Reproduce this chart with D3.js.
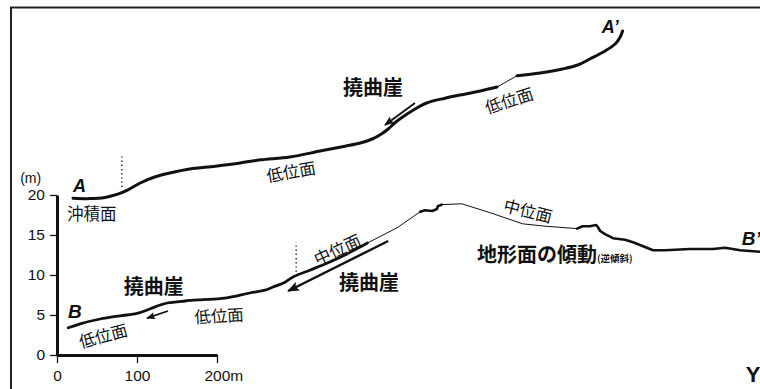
<!DOCTYPE html>
<html><head><meta charset="utf-8">
<script src="https://cdn.jsdelivr.net/npm/d3@7"></script>
<style>html,body{margin:0;padding:0;background:#fff;overflow:hidden}</style>
</head><body>
<svg id="c" width="760" height="389"></svg>
<script>
// ---- data: distance (m), elevation (m) ----
const yTicks = [0, 5, 10, 15, 20];
const xTicks = [0, 100, 200];
const xTickLabels = ["0", "100", "200m"];

// Profile A–A'
const profileA1 = [[20,19.6],[41,19.55],[60,19.7],[76,20.1],[88,20.6],[104,21.5],[122,22.25],[141,22.75],[166,23.25],[198,23.6],[229,24],[254,24.4],[291,24.75],[329,25.5],[360,26.1],[379,26.5],[394,27],[405,27.6],[414,28.25],[422,29],[432,29.75],[445,30.6],[462,31.5],[485,32.1],[504,32.5],[529,33],[550,33.5]];
const profileA2 = [[550,33.5],[575,34.9]];
const profileA3 = [[575,34.9],[604,35.25],[632,35.75],[651,36.25],[666,37],[685,38],[698,38.9],[704,39.75],[707,40.5]];

// Profile B–B'
const profileB1 = [[14,3.4],[29,3.9],[54,4.5],[79,4.9],[100,5.2],[116,5.75],[129,6.25],[138,6.5],[160,6.75],[179,6.9],[210,7.1],[241,7.75],[260,8.1],[270,8.5],[285,9.1],[295,9.75],[316,10.6],[338,11.5],[360,12.5],[379,13.5],[388,14]];
const profileB2 = [[388,14],[425,15.9],[454,17.9]];
const profileB3 = [[454,17.9],[460,18.1],[469,18],[475,18.25],[476,18.6],[481,18.8]];
const profileB4 = [[481,18.8],[506,18.9],[541,17.8],[582,16.4],[610,16.1],[650,15.8]];
const profileB5 = [[650,15.8],[657,16.1],[666,16.1],[674,16.25],[676,16],[679,15.5],[685,15.1],[695,14.6],[710,14.4],[720,14.1],[735,13.5],[745,13.1],[760,13.1],[791,13.25],[820,13.25],[835,13.4],[854,13.1],[879,12.9]];

// dotted boundaries [x, y0, y1]
const dotted = [[81,21,25],[299,10.4,14.1]];
// arrows [x0,y0,x1,y1,width]
const arrows = [[447.5,31.5,410,28.75,2],[138.75,5.5,112.5,4.6,1.8],[414,14.25,289,8,2.4]];

// labels: text, x, y, rotation, size, weight, style, anchor
const labels = [
  ["A", 20, 20.375, 0, 18, "bold", "italic", "start", "latin"],
  ["A’", 681, 40.2, 0, 18, "bold", "italic", "start", "latin"],
  ["B", 13.75, 4.6, 0, 19, "bold", "italic", "start", "latin"],
  ["B’", 856, 13.75, 0, 19, "bold", "italic", "start", "latin"],
  ["(m)", -46, 21.5, 0, 14, "normal", "normal", "start", "latin"],
  ["Y", 861, -3.4, 0, 22, "bold", "normal", "start", "latin"],
  ["沖積面", 12.5, 16.9, 0, 16.5, "normal", "normal", "start", "cjk"],
  ["低位面", 292.5, 23, -10, 16.5, "normal", "normal", "middle", "cjk"],
  ["低位面", 565, 31.9, -18, 16.5, "normal", "normal", "middle", "cjk"],
  ["撓曲崖", 395, 33.6, 0, 20, "bold", "normal", "middle", "cjk"],
  ["撓曲崖", 121, 8.75, 0, 20, "bold", "normal", "middle", "cjk"],
  ["撓曲崖", 390, 9.25, 0, 20, "bold", "normal", "middle", "cjk"],
  ["低位面", 57.5, 2.5, -15, 16.5, "normal", "normal", "middle", "cjk"],
  ["低位面", 202.5, 5, -3, 16.5, "normal", "normal", "middle", "cjk"],
  ["中位面", 350, 13.25, -25, 16.5, "normal", "normal", "middle", "cjk"],
  ["中位面", 589, 18.1, 14, 16.5, "normal", "normal", "middle", "cjk"]
];
const tiltLabel = ["地形面の傾動", "(逆傾斜)", 525, 11.6];

// ---- drawing ----
const svg = d3.select("#c");
const x = d3.scaleLinear().domain([0, 200]).range([57, 217]);
const y = d3.scaleLinear().domain([0, 20]).range([355, 195]);

// frame
svg.append("rect").attr("x", 11).attr("y", 7.5).attr("width", 800).attr("height", 500)
  .attr("fill", "none").attr("stroke", "#222").attr("stroke-width", 2);

svg.append("defs").append("marker").attr("id", "ah")
  .attr("viewBox", "0 0 10 8").attr("refX", 9).attr("refY", 4)
  .attr("markerWidth", 5).attr("markerHeight", 4).attr("markerUnits", "strokeWidth")
  .attr("orient", "auto")
  .append("path").attr("d", "M0,0 L10,4 L0,8 L2,4 Z").attr("fill", "#111");

// axes
const ya = svg.append("g").attr("transform", "translate(57,0)")
  .call(d3.axisLeft(y).tickValues(yTicks).tickSize(7).tickPadding(5).tickSizeOuter(0));
const xa = svg.append("g").attr("transform", "translate(0,355)")
  .call(d3.axisBottom(x).tickValues(xTicks).tickSize(8).tickPadding(7).tickSizeOuter(0)
    .tickFormat((d, i) => xTickLabels[i]));
[ya, xa].forEach(g => {
  g.select(".domain").attr("stroke", "#111").attr("stroke-width", 3);
  g.selectAll(".tick line").attr("stroke", "#111").attr("stroke-width", 1.3);
  g.selectAll(".tick text").attr("font-family", "Liberation Sans, Arial, sans-serif")
    .attr("font-size", 15.5).attr("fill", "#111");
});
xa.selectAll(".tick text").filter(d => d === 200).attr("text-anchor", "start").attr("x", -13);

// profiles
const smooth = d3.line().x(d => x(d[0])).y(d => y(d[1])).curve(d3.curveCatmullRom.alpha(0.5));
const straight = d3.line().x(d => x(d[0])).y(d => y(d[1]));
function prof(data, w, gen) {
  svg.append("path").attr("d", gen(data)).attr("fill", "none").attr("stroke", "#111")
    .attr("stroke-width", w).attr("stroke-linejoin", "round").attr("stroke-linecap", "round");
}
prof(profileA1, 3, smooth);
prof(profileA2, 1, straight);
prof(profileA3, 3, smooth);
prof(profileB1, 2.8, smooth);
prof(profileB2, 1, straight);
prof(profileB3, 2.6, straight);
prof(profileB4, 1, straight);
prof(profileB5, 2.6, straight);

// dotted lines
dotted.forEach(d => {
  svg.append("line").attr("x1", x(d[0])).attr("x2", x(d[0])).attr("y1", y(d[1])).attr("y2", y(d[2]))
    .attr("stroke", "#222").attr("stroke-width", 1.6).attr("stroke-dasharray", "1.2,3");
});

// arrows
arrows.forEach(a => {
  svg.append("line").attr("x1", x(a[0])).attr("y1", y(a[1])).attr("x2", x(a[2])).attr("y2", y(a[3]))
    .attr("stroke", "#111").attr("stroke-width", a[4]).attr("marker-end", "url(#ah)");
});

// labels
labels.forEach(l => {
  const px = x(l[1]), py = y(l[2]);
  const t = svg.append("text").text(l[0])
    .attr("transform", `translate(${px},${py}) rotate(${l[3]})`)
    .attr("font-size", l[4]).attr("font-weight", l[5]).attr("font-style", l[6])
    .attr("text-anchor", l[7]).attr("fill", "#111")
    .attr("font-family", l[8] === "cjk" ? "'Noto Sans CJK JP', sans-serif" : "Liberation Sans, Arial, sans-serif");
  if (l[7] === "middle") t.attr("dominant-baseline", "central");
});
const tl = svg.append("text").attr("x", x(tiltLabel[2])).attr("y", y(tiltLabel[3]))
  .attr("font-family", "'Noto Sans CJK JP', sans-serif").attr("font-weight", "bold").attr("fill", "#111");
tl.append("tspan").attr("font-size", 20).text(tiltLabel[0]);
tl.append("tspan").attr("font-size", 9.5).text(tiltLabel[1]);
</script>
</body></html>
